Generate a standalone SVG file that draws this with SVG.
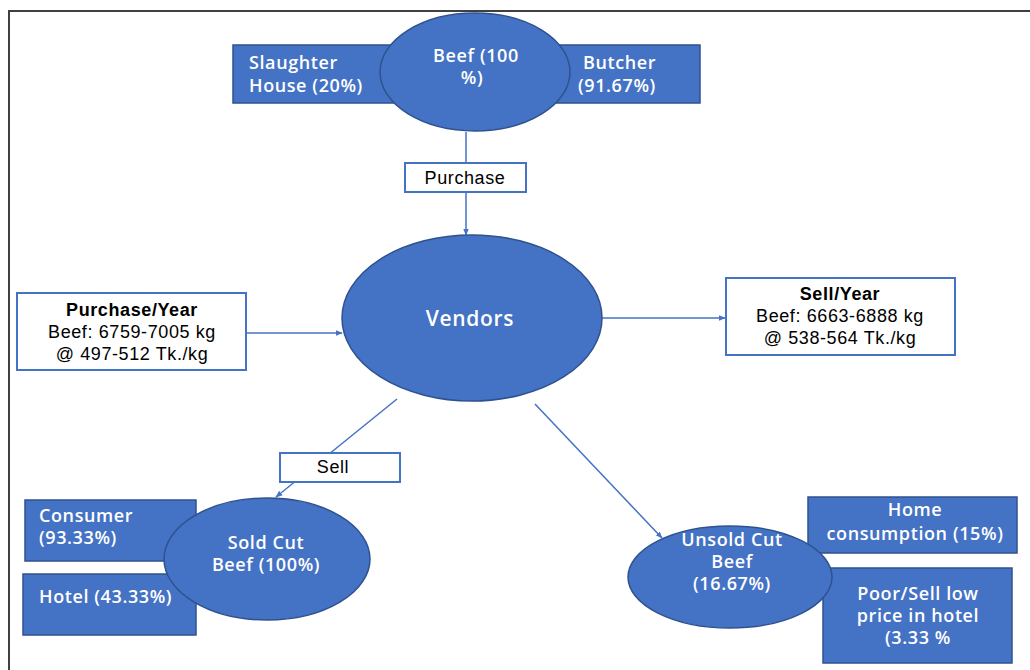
<svg xmlns="http://www.w3.org/2000/svg" width="1030" height="670" viewBox="0 0 1030 670">
  <style>
    .blue { fill: #4472C4; stroke: #2F528F; stroke-width: 1.5; }
    .box { fill: #FFFFFF; stroke: #4472C4; stroke-width: 2; }
    .wt { font-family: "Open Sans", "Liberation Sans", sans-serif; font-weight: 600; font-size: 18px; letter-spacing: 0.6px; fill: #FFFFFF; }
    .bt { font-family: "Liberation Sans", Arial, sans-serif; font-size: 18px; letter-spacing: 0.6px; fill: #000000; }
    .bb { font-weight: 700; }
    .big { font-size: 21px; letter-spacing: 0.7px; }
    .link { stroke: #4472C4; stroke-width: 1.5; fill: none; marker-end: url(#arrow); }
  </style>
  <defs>
    <marker id="arrow" viewBox="0 0 10 10" refX="9" refY="5" markerWidth="7" markerHeight="7" orient="auto" markerUnits="userSpaceOnUse">
      <path d="M0,1 L10,5 L0,9 Z" fill="#4472C4"/>
    </marker>
  </defs>

  <rect width="1030" height="670" fill="#FFFFFF"/>
  <!-- frame -->
  <g id="frame" stroke="#404040" stroke-width="2" fill="none">
    <line x1="8" y1="11" x2="1030" y2="11"/>
    <line x1="9" y1="10" x2="9" y2="670"/>
  </g>

  <!-- connectors -->
  <g id="connectors">
    <line class="link" x1="466" y1="132" x2="466" y2="235"/>
    <line class="link" x1="246" y1="333" x2="342" y2="333"/>
    <line class="link" x1="602" y1="318" x2="725" y2="318"/>
    <line class="link" x1="397" y1="399" x2="276" y2="497"/>
    <line class="link" x1="535" y1="404" x2="662" y2="538"/>
  </g>

  <!-- source -->
  <g id="slaughter-house">
    <rect class="blue" x="233" y="45" width="170" height="58"/>
    <text class="wt" x="249" y="69">Slaughter</text>
    <text class="wt" x="249" y="92">House (20%)</text>
  </g>
  <g id="butcher">
    <rect class="blue" x="540" y="45" width="160" height="58"/>
    <text class="wt" x="583" y="69">Butcher</text>
    <text class="wt" x="578" y="92">(91.67%)</text>
  </g>
  <g id="beef">
    <ellipse class="blue" cx="475" cy="72" rx="95" ry="59"/>
    <text class="wt" x="476" y="62" text-anchor="middle">Beef (100</text>
    <text class="wt" x="472" y="84" text-anchor="middle">%)</text>
  </g>

  <g id="purchase-label">
    <rect class="box" x="405" y="163" width="121" height="29"/>
    <text class="bt" x="465" y="184" text-anchor="middle">Purchase</text>
  </g>

  <g id="vendors">
    <ellipse class="blue" cx="472" cy="318" rx="130" ry="83"/>
    <text class="wt big" x="470" y="326" text-anchor="middle">Vendors</text>
  </g>

  <g id="purchase-year">
    <rect class="box" x="17" y="293" width="229" height="77"/>
    <text class="bt bb" x="132" y="316" text-anchor="middle">Purchase/Year</text>
    <text class="bt" x="132" y="338" text-anchor="middle">Beef: 6759-7005 kg</text>
    <text class="bt" x="132" y="360" text-anchor="middle">@ 497-512 Tk./kg</text>
  </g>

  <g id="sell-year">
    <rect class="box" x="726" y="278" width="229" height="77"/>
    <text class="bt bb" x="840" y="300" text-anchor="middle">Sell/Year</text>
    <text class="bt" x="840" y="322" text-anchor="middle">Beef: 6663-6888 kg</text>
    <text class="bt" x="840" y="344" text-anchor="middle">@ 538-564 Tk./kg</text>
  </g>

  <g id="sell-label">
    <rect class="box" x="280" y="453" width="120" height="29"/>
    <text class="bt" x="333" y="473" text-anchor="middle">Sell</text>
  </g>

  <!-- sold branch -->
  <g id="consumer">
    <rect class="blue" x="25" y="500" width="171" height="61"/>
    <text class="wt" x="39" y="522">Consumer</text>
    <text class="wt" x="39" y="544">(93.33%)</text>
  </g>
  <g id="hotel">
    <rect class="blue" x="23" y="574" width="173" height="61"/>
    <text class="wt" x="39" y="603">Hotel (43.33%)</text>
  </g>
  <g id="sold-cut-beef">
    <ellipse class="blue" cx="267" cy="559" rx="103" ry="61"/>
    <text class="wt" x="266" y="549" text-anchor="middle">Sold Cut</text>
    <text class="wt" x="266" y="571" text-anchor="middle">Beef (100%)</text>
  </g>

  <!-- unsold branch -->
  <g id="home-consumption">
    <rect class="blue" x="808" y="497" width="209" height="56"/>
    <text class="wt" x="915" y="516" text-anchor="middle">Home</text>
    <text class="wt" x="915" y="540" text-anchor="middle">consumption (15%)</text>
  </g>
  <g id="poor-hotel">
    <rect class="blue" x="823" y="568" width="189" height="95"/>
    <text class="wt" x="918" y="600" text-anchor="middle">Poor/Sell low</text>
    <text class="wt" x="918" y="622" text-anchor="middle">price in hotel</text>
    <text class="wt" x="918" y="644" text-anchor="middle">(3.33 %</text>
  </g>
  <g id="unsold-cut-beef">
    <ellipse class="blue" cx="730" cy="577" rx="102" ry="51"/>
    <text class="wt" x="732" y="546" text-anchor="middle">Unsold Cut</text>
    <text class="wt" x="732" y="568" text-anchor="middle">Beef</text>
    <text class="wt" x="732" y="590" text-anchor="middle">(16.67%)</text>
  </g>
</svg>
